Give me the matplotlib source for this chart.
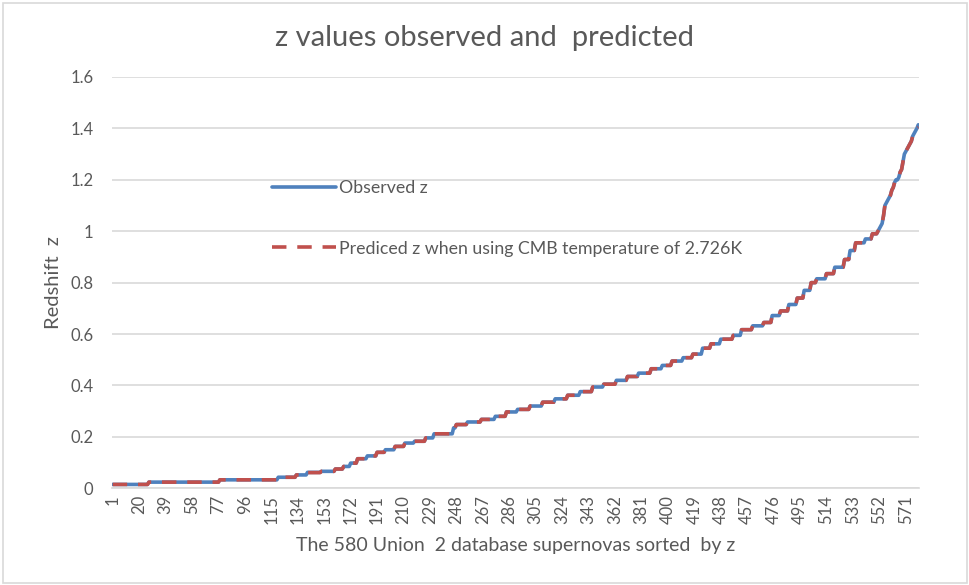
import numpy as np
import matplotlib
matplotlib.use("Agg")
import matplotlib.pyplot as plt
from matplotlib.patches import Rectangle

# ---- data (plateaus as level + run length) ----
obs_levels = [0.015, 0.024, 0.033, 0.043, 0.052, 0.062, 0.066, 0.075, 0.085, 0.098,
              0.115, 0.126, 0.140, 0.150, 0.163, 0.176, 0.183, 0.196, 0.212, 0.235,
              0.248, 0.258, 0.268, 0.280, 0.297, 0.307, 0.320, 0.335, 0.348, 0.362,
              0.376, 0.394, 0.405, 0.420, 0.435, 0.448, 0.465, 0.478, 0.495, 0.508,
              0.522, 0.545, 0.562, 0.580, 0.595, 0.617, 0.632, 0.645, 0.672, 0.690,
              0.715, 0.740, 0.770, 0.800, 0.815, 0.835, 0.860, 0.890, 0.925, 0.955,
              0.970, 0.990,
              1.00, 1.01, 1.02, 1.03, 1.06, 1.10, 1.11, 1.12, 1.13, 1.14,
              1.16, 1.17, 1.19, 1.20, 1.20, 1.21, 1.23, 1.24, 1.27, 1.30,
              1.31, 1.32, 1.33, 1.34, 1.35, 1.37, 1.38, 1.39, 1.40, 1.414]
obs_counts = [26, 51, 42, 13, 8, 10, 10, 6, 5, 5,
              7, 7, 6, 7, 7, 7, 8, 6, 14, 2,
              8, 10, 10, 8, 8, 9, 9, 9, 9, 9,
              9, 8, 9, 8, 8, 9, 8, 7, 8, 7,
              7, 6, 7, 9, 6, 8, 8, 6, 6, 6,
              6, 5, 5, 4, 7, 6, 7, 4, 4, 7,
              5, 4,
              1, 1, 1, 1, 1, 1, 1, 1, 1, 1,
              1, 1, 1, 1, 1, 1, 1, 1, 1, 1,
              1, 1, 1, 1, 1, 1, 1, 1, 1, 1]
pred_levels = [0.015, 0.024, 0.033, 0.043, 0.052, 0.061, 0.066, 0.075, 0.085, 0.098,
               0.115, 0.126, 0.140, 0.150, 0.163, 0.176, 0.183, 0.196, 0.212, 0.235,
               0.248, 0.258, 0.268, 0.280, 0.297, 0.307, 0.320, 0.335, 0.348, 0.362,
               0.376, 0.394, 0.405, 0.420, 0.435, 0.448, 0.465, 0.478, 0.495, 0.508,
               0.522, 0.545, 0.562, 0.580, 0.595, 0.617, 0.632, 0.645, 0.672, 0.690,
               0.715, 0.740, 0.770, 0.800, 0.815, 0.835, 0.860, 0.890, 0.925, 0.955,
               0.970, 0.990,
               1.00, 1.01, 1.02, 1.03, 1.06, 1.10, 1.11, 1.12, 1.13, 1.14,
               1.16, 1.17, 1.19, 1.20, 1.20, 1.21, 1.23, 1.24, 1.27, 1.30,
               1.31, 1.32, 1.33, 1.34, 1.35, 1.37, 1.38, 1.39, 1.40, 1.405]
pred_counts = obs_counts

tick_labels = [str(v) for v in range(1, 581, 19)]
y_ticks = [0, 0.2, 0.4, 0.6, 0.8, 1.0, 1.2, 1.4, 1.6]
y_tick_labels = ["0", "0.2", "0.4", "0.6", "0.8", "1", "1.2", "1.4", "1.6"]

obs = np.repeat(obs_levels, obs_counts)
pred = np.repeat(pred_levels, pred_counts)
x = np.arange(1, len(obs) + 1)

# ---- style ----
plt.rcParams['font.family'] = ['Lato', 'DejaVu Sans']
grey = '#595959'

fig = plt.figure(figsize=(9.7, 5.85), dpi=100)
fig.patches.append(Rectangle((0.003, 0.003), 0.994, 0.992, transform=fig.transFigure,
                             fill=False, edgecolor='#d9d9d9', linewidth=1.2))
ax = fig.add_axes([0.1155, 0.1653, 0.9474 - 0.1155, 0.8684 - 0.1653])

ax.plot(x, obs, color='#4F81BD', lw=2.6, solid_capstyle='round', label='Observed z', zorder=3)
ax.plot(x, pred, color='#C0504D', lw=2.6, linestyle=(0, (4, 3)), dash_capstyle='butt',
        label='Prediced z when using CMB temperature of 2.726K', zorder=4)

ax.set_xlim(0.5, len(obs) + 0.5)
ax.set_ylim(0, 1.6)
ax.set_yticks(y_ticks)
ax.set_yticklabels(y_tick_labels)
xt = [int(t) for t in tick_labels]
ax.set_xticks(xt)
ax.set_xticklabels(tick_labels, rotation=90)
ax.tick_params(axis='both', length=0, colors=grey, labelsize=12)
ax.tick_params(axis='y', pad=13.5)
ax.tick_params(axis='x', pad=5)

ax.grid(axis='y', color='#d9d9d9', lw=1.2)
ax.set_axisbelow(True)
for s in ['top', 'right', 'left']:
    ax.spines[s].set_visible(False)
ax.spines['bottom'].set_color('#d9d9d9')
ax.spines['bottom'].set_linewidth(1.2)

fig.text(0.5, 0.935, 'z values observed and  predicted', ha='center', va='center',
         fontsize=21, color=grey)
ax.set_ylabel('Redshift  z', fontsize=14.5, color=grey, labelpad=6)
ax.set_xlabel('The 580 Union  2 database supernovas sorted  by z', fontsize=14,
              color=grey, labelpad=9)

leg = fig.legend(loc='upper left', bbox_to_anchor=(0.2804, 0.692), frameon=False,
                 fontsize=12.8, handlelength=3.6, handletextpad=0.15, labelspacing=2.5,
                 borderpad=0, borderaxespad=0)
for t in leg.get_texts():
    t.set_color(grey)

fig.savefig('out.png', dpi=100)
